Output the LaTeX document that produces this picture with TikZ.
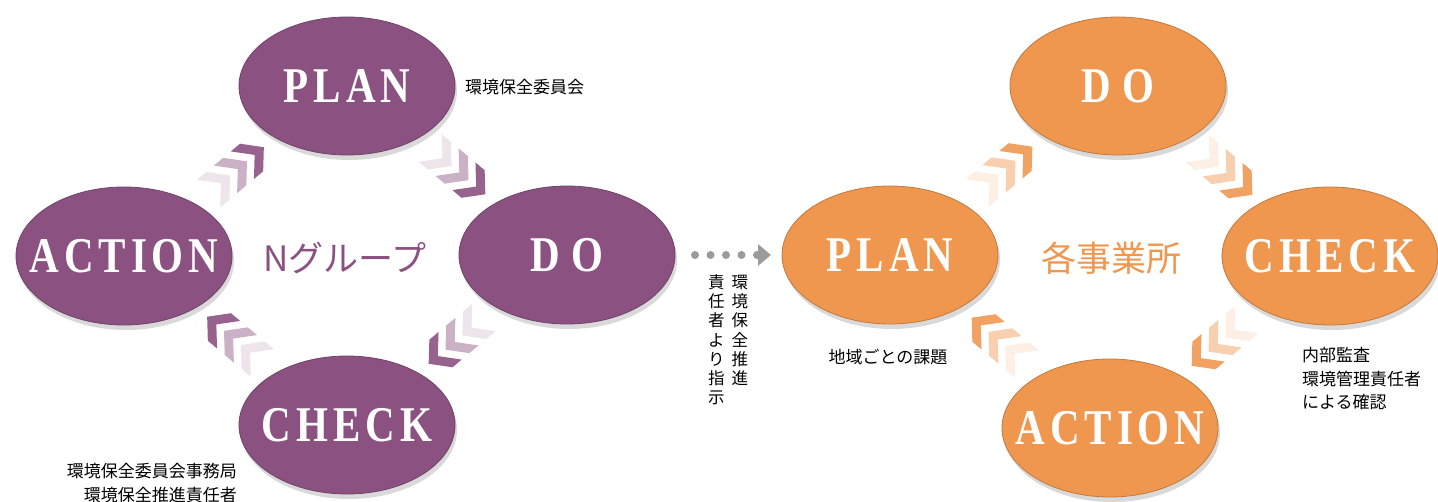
\documentclass[tikz,border=0pt]{standalone}
\usepackage{fontspec}
\setmainfont{Liberation Sans}
\newfontfamily\jpfont{Noto Sans CJK JP}
\newfontfamily\pdcafont{Liberation Serif}[FakeStretch=0.82,LetterSpace=10]
\usetikzlibrary{shapes.geometric,shadows,arrows.meta,calc}
\definecolor{grpurple}{HTML}{8B5281}
\definecolor{grorange}{HTML}{F0974F}
\definecolor{arrgray}{HTML}{9B9B9B}
% phase word, kept out of the ellipse size
\newcommand{\pdca}[1]{\makebox[0pt]{#1}}
% three chevrons half way between two phases
\newcommand{\cyclearrow}[4]{%
  \begin{scope}[shift={($(#1)!0.5!(#2)$)}, rotate=#3]
    \foreach \i/\t in {0/15,1/45,2/90}{
      \pgfmathsetmacro\cx{\i*22-26}
      \fill[#4!\t!white] (\cx-9,-18) -- (\cx+7,0) -- (\cx-9,18) -- (\cx+3,18) -- (\cx+19,0) -- (\cx+3,-18) -- cycle;
    }
  \end{scope}}

\begin{document}
\begin{tikzpicture}[x=1pt,y=-1pt,
    phase/.style={ellipse, minimum width=216pt, minimum height=138pt, inner sep=0pt,
      fill=#1, draw=#1!80!black, line width=0.8pt,
      drop shadow={shadow xshift=2pt, shadow yshift=-5pt, opacity=.3},
      text=white, font=\pdcafont\bfseries\fontsize{50}{50}\selectfont},
    group/.style={text=#1, font=\jpfont\fontsize{35}{35}\selectfont},
    note/.style={inner sep=0pt, font=\jpfont\fontsize{17}{23.5}\selectfont},
    dotarrow/.style={arrgray, line width=8pt, line cap=round, dash pattern=on 0pt off 15.5pt,
      -{Triangle[length=13pt,width=21pt]}}]
  \useasboundingbox (0,0) rectangle (1438,502);

  % N group
  \node[phase=grpurple] (lplan) at (347,86) {\pdca{PLAN}};
  \node[phase=grpurple] (ldo) at (567,255) {\pdca{D\hspace{11pt}O}};
  \node[phase=grpurple] (lcheck) at (347,425) {\pdca{CHECK}};
  \node[phase=grpurple] (laction) at (124,256) {\pdca{ACTION}};
  \node[group=grpurple] (lname) at (345,258) {Nグループ};
  \cyclearrow{laction}{lplan}{40}{grpurple}
  \cyclearrow{lplan}{ldo}{-40}{grpurple}
  \cyclearrow{ldo}{lcheck}{-140}{grpurple}
  \cyclearrow{lcheck}{laction}{140}{grpurple}

  \node[note, anchor=west] (lplannote) at (465,87) {環境保全委員会};
  \node[note, align=right, anchor=east] (lchecknote) at (237,483) {環境保全委員会事務局\\環境保全推進責任者};

  % sites
  \node[phase=grorange] (rdo) at (1118,86) {\pdca{D\hspace{11pt}O}};
  \node[phase=grorange] (rcheck) at (1330,256) {\pdca{CHECK}};
  \node[phase=grorange] (raction) at (1110,428) {\pdca{ACTION}};
  \node[phase=grorange] (rplan) at (890,255) {\pdca{PLAN}};
  \node[group=grorange] (rname) at (1111,258) {各事業所};
  \cyclearrow{rplan}{rdo}{40}{grorange}
  \cyclearrow{rdo}{rcheck}{-40}{grorange}
  \cyclearrow{rcheck}{raction}{-140}{grorange}
  \cyclearrow{raction}{rplan}{140}{grorange}

  \node[note] (rplannote) at (888,357) {地域ごとの課題};
  \node[note, align=left, anchor=west] (rchecknote) at (1302,379) {内部監査\\環境管理責任者\\による確認};

  % instruction from N group to sites
  \coordinate (ds) at (695,255);
  \coordinate (de) at (771,255);
  \draw[dotarrow] (ds) -- (de);
  \node[note, anchor=north, font=\jpfont\fontsize{16.5}{18.3}\selectfont] (instr) at (728,274)
    {\begin{tabular}{@{}c@{\hspace{7pt}}c@{}}責&環\\任&境\\者&保\\よ&全\\り&推\\指&進\\示&\end{tabular}};
\end{tikzpicture}
\end{document}
